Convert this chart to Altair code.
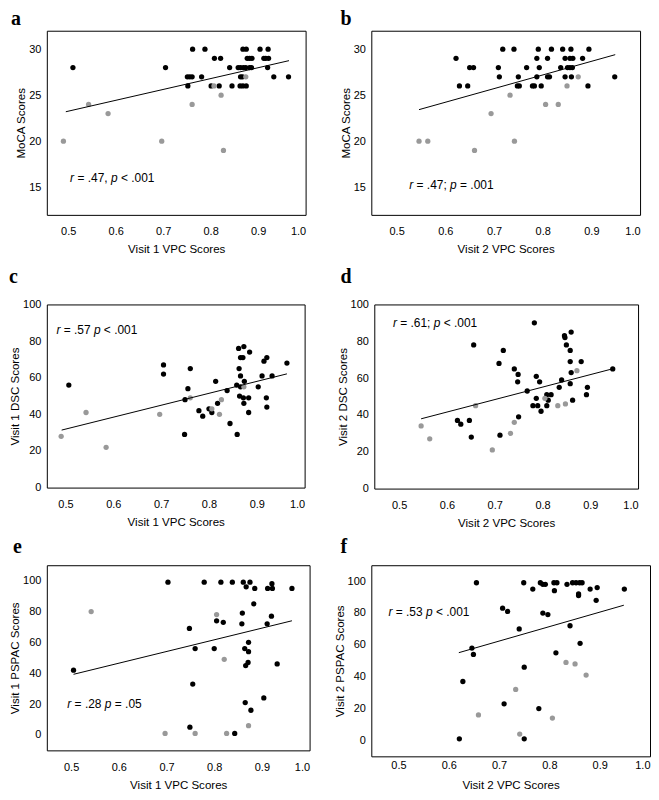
import altair as alt
import pandas as pd

# ---------------- data ----------------
# Panel a: Visit 1 VPC vs MoCA
a_black_x = [0.51, 0.705, 0.762, 0.788, 0.868, 0.875, 0.904, 0.921,
             0.808, 0.821, 0.877, 0.882, 0.887, 0.912, 0.916, 0.922,
             0.840, 0.858, 0.863, 0.869, 0.874, 0.882, 0.886, 0.920,
             0.751, 0.756, 0.761, 0.781, 0.863, 0.867, 0.933, 0.964,
             0.752, 0.801, 0.818, 0.845, 0.862, 0.868, 0.875]
a_black_y = [28, 28, 30, 30, 30, 30, 30, 30,
             29, 29, 29, 29, 29, 29, 29, 29,
             28, 28, 28, 28, 28, 28, 28, 28,
             27, 27, 27, 27, 27, 27, 27, 27,
             26, 26, 26, 26, 26, 26, 26]
a_gray_x = [0.490, 0.543, 0.584, 0.697, 0.761, 0.807, 0.822, 0.827, 0.874]
a_gray_y = [20, 24, 23, 20, 24, 26, 25, 19, 27]
a_fit_x = [0.495, 0.965]
a_fit_y = [23.2, 28.75]

# Panel b: Visit 2 VPC vs MoCA
b_black_x = [0.718, 0.741, 0.791, 0.818, 0.841, 0.858, 0.895,
             0.622, 0.788, 0.810, 0.846, 0.856, 0.862, 0.882,
             0.650, 0.658, 0.709, 0.767, 0.793, 0.837, 0.851, 0.856, 0.861,
             0.711, 0.750, 0.788, 0.810, 0.814, 0.846, 0.859, 0.948,
             0.629, 0.646, 0.748, 0.752, 0.779, 0.783, 0.797, 0.893]
b_black_y = [30, 30, 30, 30, 30, 30, 30,
             29, 29, 29, 29, 29, 29, 29,
             28, 28, 28, 28, 28, 28, 28, 28, 28,
             27, 27, 27, 27, 27, 27, 27, 27,
             26, 26, 26, 26, 26, 26, 26, 26]
b_gray_x = [0.546, 0.564, 0.660, 0.694, 0.733, 0.742, 0.806, 0.832, 0.850, 0.873]
b_gray_y = [20, 20, 19, 23, 25, 20, 24, 24, 26, 27]
b_fit_x = [0.546, 0.949]
b_fit_y = [23.43, 29.4]

# Panel c: Visit 1 VPC vs DSC
c_black_x = [0.507, 0.705, 0.705, 0.761, 0.756, 0.750, 0.749, 0.779, 0.787, 0.800,
             0.806, 0.814, 0.818, 0.838, 0.844, 0.859, 0.858, 0.862, 0.863, 0.864,
             0.866, 0.866, 0.866, 0.871, 0.872, 0.873, 0.873, 0.874, 0.883, 0.883,
             0.885, 0.903, 0.911, 0.915, 0.921, 0.920, 0.921, 0.932, 0.963]
c_black_y = [56, 67, 62, 65, 54, 48, 29, 42, 39, 43,
             41, 58, 46, 53, 35, 29, 56, 76, 65, 50,
             71, 61, 55, 71, 49, 77, 46, 58, 49, 41,
             74, 55, 61, 69, 71, 49, 44, 61, 68]
c_gray_x = [0.491, 0.543, 0.585, 0.697, 0.761, 0.806, 0.822, 0.826, 0.873]
c_gray_y = [28, 41, 22, 40, 49, 43, 40, 48, 55]
c_fit_x = [0.492, 0.963]
c_fit_y = [31.4, 62.1]

# Panel d: Visit 2 VPC vs DSC
d_black_x = [0.622, 0.629, 0.647, 0.651, 0.656, 0.709, 0.711, 0.718, 0.741, 0.749,
             0.748, 0.750, 0.768, 0.783, 0.780, 0.787, 0.787, 0.790, 0.794, 0.797,
             0.809, 0.809, 0.812, 0.818, 0.835, 0.840, 0.846, 0.847, 0.850, 0.858,
             0.858, 0.858, 0.860, 0.860, 0.863, 0.881, 0.892, 0.894, 0.947]
d_black_y = [37, 35, 37, 28, 78, 68, 29, 75, 65, 62,
             58, 39, 53, 90, 45, 61, 49, 45, 58, 42,
             51, 45, 48, 51, 55, 59, 83, 82, 78, 75,
             69, 57, 85, 63, 48, 69, 51, 55, 65]
d_gray_x = [0.546, 0.564, 0.660, 0.695, 0.733, 0.741, 0.805, 0.832, 0.848, 0.872]
d_gray_y = [34, 27, 45, 21, 30, 36, 49, 45, 46, 64]
d_fit_x = [0.546, 0.946]
d_fit_y = [37.9, 65.0]

# Panel e: Visit 1 VPC vs PSPAC
e_black_x = [0.505, 0.703, 0.748, 0.749, 0.755, 0.760, 0.779, 0.800, 0.805, 0.819,
             0.814, 0.838, 0.843, 0.861, 0.875, 0.867, 0.885, 0.912, 0.922, 0.921,
             0.963, 0.883, 0.859, 0.920, 0.858, 0.911, 0.872, 0.864, 0.872, 0.871,
             0.866, 0.932, 0.904, 0.865, 0.877]
e_black_y = [42, 99, 69, 5, 33, 56, 99, 56, 74, 73,
             99, 99, 1, 99, 99, 96, 95, 95, 95, 98,
             95, 85, 79, 77, 72, 72, 60, 56, 54, 47,
             45, 46, 24, 21, 16]
e_gray_x = [0.542, 0.697, 0.760, 0.805, 0.821, 0.826, 0.872]
e_gray_y = [80, 1, 1, 78, 49, 1, 6]
e_fit_x = [0.505, 0.963]
e_fit_y = [39.3, 74.0]

# Panel f: Visit 2 VPC vs PSPAC
f_black_x = [0.621, 0.628, 0.646, 0.649, 0.655, 0.707, 0.717, 0.710, 0.740, 0.749,
             0.750, 0.750, 0.767, 0.779, 0.782, 0.787, 0.792, 0.787, 0.797, 0.809,
             0.815, 0.810, 0.813, 0.835, 0.841, 0.846, 0.853, 0.860, 0.865, 0.858,
             0.858, 0.861, 0.881, 0.895, 0.893, 0.949]
f_black_y = [1, 37, 58, 54, 99, 83, 81, 23, 70, 99,
             46, 1, 95, 20, 99, 98, 98, 80, 79, 99,
             99, 94, 55, 98, 72, 99, 99, 99, 99, 92,
             91, 61, 95, 96, 88, 95]
f_gray_x = [0.659, 0.733, 0.741, 0.806, 0.833, 0.851, 0.873]
f_gray_y = [16, 32, 4, 14, 49, 48, 41]
f_fit_x = [0.620, 0.948]
f_fit_y = [55.1, 84.9]

panel_letters = ["a", "b", "c", "d", "e", "f"]
x_titles = ["Visit 1 VPC Scores", "Visit 2 VPC Scores"] * 3
y_titles = ["MoCA Scores", "MoCA Scores", "Visit 1 DSC Scores", "Visit 2 DSC Scores",
            "Visit 1 PSPAC Scores", "Visit 2 PSPAC Scores"]
x_ticks = [0.5, 0.6, 0.7, 0.8, 0.9, 1.0]
moca_ticks = [15, 20, 25, 30]
pct_ticks = [0, 20, 40, 60, 80, 100]

# statistics text: (r value part, p value part)
stat_r = ["= .47,", "= .47;", "= .57", "= .61;", "= .28", "= .53"]
stat_p = ["< .001", "= .001", "< .001", "< .001", "= .05", "< .001"]
stat_x = [0.504, 0.526, 0.481, 0.487, 0.492, 0.480]
stat_y = [16.0, 15.2, 86, 90, 20, 80.4]

# ---------------- styling / layout ----------------
FONT = "Liberation Sans"
ANN_SIZE = 12
CW = {' ': 0.278, '=': 0.584, '.': 0.278, ',': 0.278, ';': 0.278, '<': 0.584,
      'r': 0.333, 'p': 0.556}


def tw(s, fs=ANN_SIZE):
    return sum(CW.get(ch, 0.556) for ch in s) * fs


panels = [
    dict(bx=a_black_x, by=a_black_y, gx=a_gray_x, gy=a_gray_y, fx=a_fit_x, fy=a_fit_y,
         xdom=[0.455, 1.0], ydom=[12, 32], yt=moca_ticks, w=260, h=185,
         tdx=-36, toff=-14, lp=11, tp=7),
    dict(bx=b_black_x, by=b_black_y, gx=b_gray_x, gy=b_gray_y, fx=b_fit_x, fy=b_fit_y,
         xdom=[0.448, 1.0], ydom=[12, 32], yt=moca_ticks, w=270, h=185,
         tdx=-31, toff=-14, lp=11, tp=7),
    dict(bx=c_black_x, by=c_black_y, gx=c_gray_x, gy=c_gray_y, fx=c_fit_x, fy=c_fit_y,
         xdom=[0.461, 1.0], ydom=[0, 100], yt=pct_ticks, w=259, h=184,
         tdx=-38, toff=-4, lp=11, tp=7),
    dict(bx=d_black_x, by=d_black_y, gx=d_gray_x, gy=d_gray_y, fx=d_fit_x, fy=d_fit_y,
         xdom=[0.448, 1.0], ydom=[0, 100], yt=pct_ticks, w=265, h=185,
         tdx=-34, toff=-4, lp=11, tp=7),
    dict(bx=e_black_x, by=e_black_y, gx=e_gray_x, gy=e_gray_y, fx=e_fit_x, fy=e_fit_y,
         xdom=[0.449, 1.0], ydom=[-10, 110], yt=pct_ticks, w=264, h=186,
         tdx=-34, toff=-8, lp=11, tp=7),
    dict(bx=f_black_x, by=f_black_y, gx=f_gray_x, gy=f_gray_y, fx=f_fit_x, fy=f_fit_y,
         xdom=[0.446, 1.0], ydom=[-10, 110], yt=pct_ticks, w=280, h=192,
         tdx=-31, toff=-8, lp=3, tp=9),
]


def make_panel(i):
    p = panels[i]
    pts = pd.DataFrame({
        "x": p["bx"] + p["gx"],
        "y": p["by"] + p["gy"],
        "grp": ["black"] * len(p["bx"]) + ["gray"] * len(p["gx"]),
    })
    fit = pd.DataFrame({"x": p["fx"], "y": p["fy"]})
    ann = pd.DataFrame({"x": [stat_x[i]], "y": [stat_y[i]]})

    X = alt.X("x:Q", scale=alt.Scale(domain=p["xdom"], nice=False, zero=False),
              axis=alt.Axis(values=x_ticks, format=".1f", title=x_titles[i],
                            labelPadding=p["lp"], titlePadding=p["tp"]))
    Y = alt.Y("y:Q", scale=alt.Scale(domain=p["ydom"], nice=False, zero=False),
              axis=alt.Axis(values=p["yt"], format="d", title=y_titles[i]))

    points = alt.Chart(pts).mark_circle(size=28, opacity=1).encode(
        x=X, y=Y,
        color=alt.Color("grp:N", scale=alt.Scale(domain=["black", "gray"],
                                                 range=["#000000", "#999999"]),
                        legend=None),
    )
    line = alt.Chart(fit).mark_line(color="black", strokeWidth=1).encode(x=X, y=Y)

    segs = [("r", True, 0.0),
            (stat_r[i], False, tw("r ")),
            ("p", True, tw("r " + stat_r[i] + " ")),
            (stat_p[i], False, tw("r " + stat_r[i] + " p "))]
    texts = []
    for s, ital, off in segs:
        texts.append(
            alt.Chart(ann).mark_text(
                text=s, align="left", baseline="middle", dx=off,
                font=FONT, fontSize=ANN_SIZE, fontStyle="italic" if ital else "normal",
                color="black",
            ).encode(x=X, y=Y)
        )

    return alt.layer(points, line, *texts).properties(
        width=p["w"], height=p["h"],
        title=alt.Title(panel_letters[i], dx=p["tdx"], offset=p["toff"],
                        baseline="alphabetic", anchor="start", frame="group"),
    )


row1 = alt.hconcat(make_panel(0), make_panel(1), spacing=66, bounds="flush")
row2 = alt.hconcat(make_panel(2), make_panel(3), spacing=70, bounds="flush")
row3 = alt.hconcat(make_panel(4), make_panel(5), spacing=62, bounds="flush")

top = alt.vconcat(row1, row2, spacing=9)
chart = alt.vconcat(top, row3, spacing=6).properties(
    padding={"left": 0, "top": -2, "right": 0, "bottom": 0}
).configure_view(
    stroke="#000000", strokeWidth=1
).configure_axis(
    grid=False, ticks=False, domain=False,
    labelFont=FONT, labelFontSize=11, labelColor="#000000",
    titleFont=FONT, titleFontSize=11.6, titleFontWeight="normal", titleColor="#000000",
).configure_axisY(
    labelPadding=6, titlePadding=2,
).configure_title(
    font="Liberation Serif", fontSize=20, fontWeight="bold", color="#000000",
)

chart.save("out.html", embed_options={"renderer": "svg", "actions": False})
